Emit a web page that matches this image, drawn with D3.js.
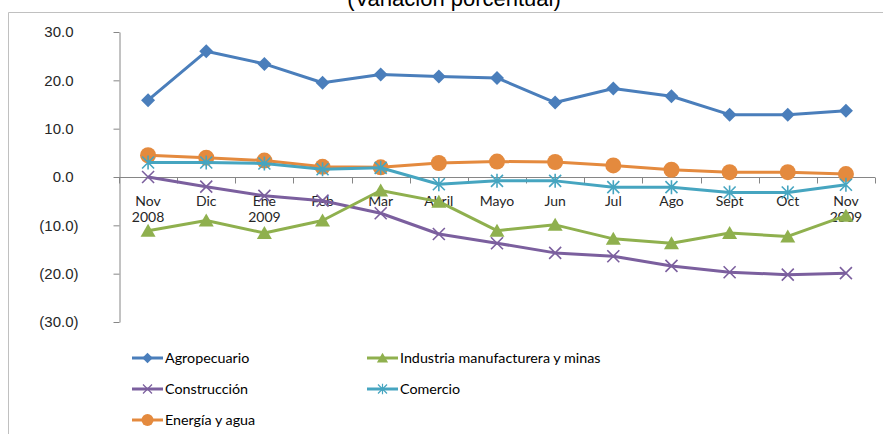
<!DOCTYPE html>
<html>
<head>
<meta charset="utf-8">
<script src="https://cdn.jsdelivr.net/npm/d3@7"></script>
<style>
  body { margin: 0; background: #fff; }
  svg { display: block; font-family: Lato, "Noto Sans", sans-serif; }
</style>
</head>
<body>
<script>
// months shown on the x axis (second line only where the year changes)
var months = ["Nov", "Dic", "Ene", "Feb", "Mar", "Abril", "Mayo", "Jun", "Jul", "Ago", "Sept", "Oct", "Nov"];
var years = ["2008", "", "2009", "", "", "", "", "", "", "", "", "", "2009"];

var agropecuario = [15.9, 26.0, 23.4, 19.5, 21.2, 20.8, 20.5, 15.4, 18.3, 16.7, 12.9, 12.9, 13.7];
var industria    = [-11.1, -9.0, -11.6, -9.0, -2.8, -5.1, -11.1, -9.9, -12.8, -13.7, -11.6, -12.3, -8.0];
var construccion = [0.0, -2.0, -3.9, -4.9, -7.5, -11.8, -13.7, -15.7, -16.4, -18.4, -19.7, -20.2, -19.9];
var comercio     = [3.0, 3.0, 2.8, 1.6, 1.9, -1.5, -0.8, -0.8, -2.1, -2.1, -3.2, -3.2, -1.6];
var energia      = [4.5, 4.0, 3.4, 2.1, 2.0, 2.9, 3.2, 3.1, 2.4, 1.5, 1.0, 1.0, 0.6];

var yTicks = [30, 20, 10, 0, -10, -20, -30];

var series = [
  {name: "Agropecuario", values: agropecuario, color: "#4a7ebb", marker: "diamond"},
  {name: "Industria manufacturera y minas", values: industria, color: "#8fb04e", marker: "triangle"},
  {name: "Construcción", values: construccion, color: "#7b5f9e", marker: "x"},
  {name: "Comercio", values: comercio, color: "#46a5c0", marker: "star"},
  {name: "Energía y agua", values: energia, color: "#e48a3e", marker: "circle"}
];

var w = 883, h = 434;

var svg = d3.select("body").append("svg")
    .attr("width", w)
    .attr("height", h);

// title, cut off at the top like in the source picture
svg.append("text")
    .attr("x", 454)
    .attr("y", 6)
    .attr("text-anchor", "middle")
    .style("font-family", "'Liberation Sans', Arial, sans-serif")
    .style("font-size", "22px")
    .attr("fill", "#000")
    .text("(Variación porcentual)");

// chart area border
svg.append("path")
    .attr("d", "M8.5," + h + "V12.5H" + w)
    .attr("fill", "none")
    .attr("stroke", "#c0c0c0")
    .attr("stroke-width", 1);

var x = d3.scaleBand()
    .domain(d3.range(months.length))
    .range([119, 875]);

var y = d3.scaleLinear()
    .domain([-30, 30])
    .range([322, 32]);

var fmt = function(v) {
  var s = d3.format(".1f")(Math.abs(v));
  return v < 0 ? "(" + s + ")" : s;
};

// y axis
var yAxis = svg.append("g")
    .attr("transform", "translate(119.5,0)")
    .call(d3.axisLeft(y).tickValues(yTicks).tickSize(6).tickSizeOuter(0).tickFormat(fmt));
yAxis.select(".domain").attr("stroke", "#868686");
yAxis.selectAll(".tick line").attr("stroke", "#868686");
yAxis.selectAll(".tick text")
    .attr("x", function(d) { return d < 0 ? -41 : -46; })
    .attr("fill", "#262626")
    .style("font-size", "15px");

// x axis at zero
var xAxis = svg.append("g")
    .attr("transform", "translate(0," + (y(0) + 0.5) + ")");
xAxis.append("line")
    .attr("x1", x.range()[0]).attr("x2", x.range()[1])
    .attr("stroke", "#868686");
xAxis.selectAll(".tk")
    .data(d3.range(months.length + 1))
    .enter().append("line")
    .attr("x1", function(i) { return Math.round(x.range()[0] + i * x.step()) + 0.5; })
    .attr("x2", function(i) { return Math.round(x.range()[0] + i * x.step()) + 0.5; })
    .attr("y1", 0).attr("y2", 6)
    .attr("stroke", "#868686");

var lab = xAxis.selectAll(".lab")
    .data(months)
    .enter().append("text")
    .attr("text-anchor", "middle")
    .attr("fill", "#262626")
    .style("font-size", "14px");
lab.append("tspan")
    .attr("x", function(d, i) { return x(i) + x.bandwidth() / 2; })
    .attr("y", 28)
    .text(function(d) { return d; });
lab.append("tspan")
    .attr("x", function(d, i) { return x(i) + x.bandwidth() / 2; })
    .attr("y", 44)
    .text(function(d, i) { return years[i]; });

function drawMarker(g, type, color) {
  if (type === "diamond") {
    g.append("path").attr("d", "M0,-7L7,0L0,7L-7,0Z").attr("fill", color);
  } else if (type === "triangle") {
    g.append("path").attr("d", "M0,-7L7.5,6L-7.5,6Z").attr("fill", color);
  } else if (type === "circle") {
    g.append("circle").attr("r", 8).attr("fill", color);
  } else if (type === "x") {
    g.append("path").attr("d", "M-6,-6L6,6M-6,6L6,-6")
      .attr("stroke", color).attr("stroke-width", 1.6).attr("fill", "none");
  } else if (type === "star") {
    g.append("path").attr("d", "M-6,-6L6,6M-6,6L6,-6M0,-7V7")
      .attr("stroke", color).attr("stroke-width", 1.6).attr("fill", "none");
  }
}

var line = d3.line()
    .x(function(d, i) { return x(i) + x.bandwidth() / 2; })
    .y(function(d) { return y(d); });

// draw series (in reverse so Agropecuario ends on top like excel)
series.slice().reverse().forEach(function(s) {
  var g = svg.append("g");
  g.append("path")
    .datum(s.values)
    .attr("d", line)
    .attr("fill", "none")
    .attr("stroke", s.color)
    .attr("stroke-width", 3)
    .attr("stroke-linejoin", "round");
  s.values.forEach(function(v, i) {
    var m = g.append("g")
      .attr("transform", "translate(" + (x(i) + x.bandwidth() / 2) + "," + y(v) + ")");
    drawMarker(m, s.marker, s.color);
  });
});

// legend
var legendPos = [[132, 358], [367, 358], [132, 389], [367, 389], [132, 420]];
series.forEach(function(s, i) {
  var lg = svg.append("g")
    .attr("transform", "translate(" + legendPos[i][0] + "," + legendPos[i][1] + ")");
  lg.append("line")
    .attr("x1", 0).attr("x2", 31)
    .attr("stroke", s.color)
    .attr("stroke-width", 3);
  var m = lg.append("g").attr("transform", "translate(15.5,0) scale(0.75)");
  drawMarker(m, s.marker, s.color);
  lg.append("text")
    .attr("x", 33)
    .attr("y", 0)
    .attr("dy", "0.35em")
    .attr("fill", "#000")
    .style("font-size", "14.3px")
    .text(s.name);
});
</script>
</body>
</html>
